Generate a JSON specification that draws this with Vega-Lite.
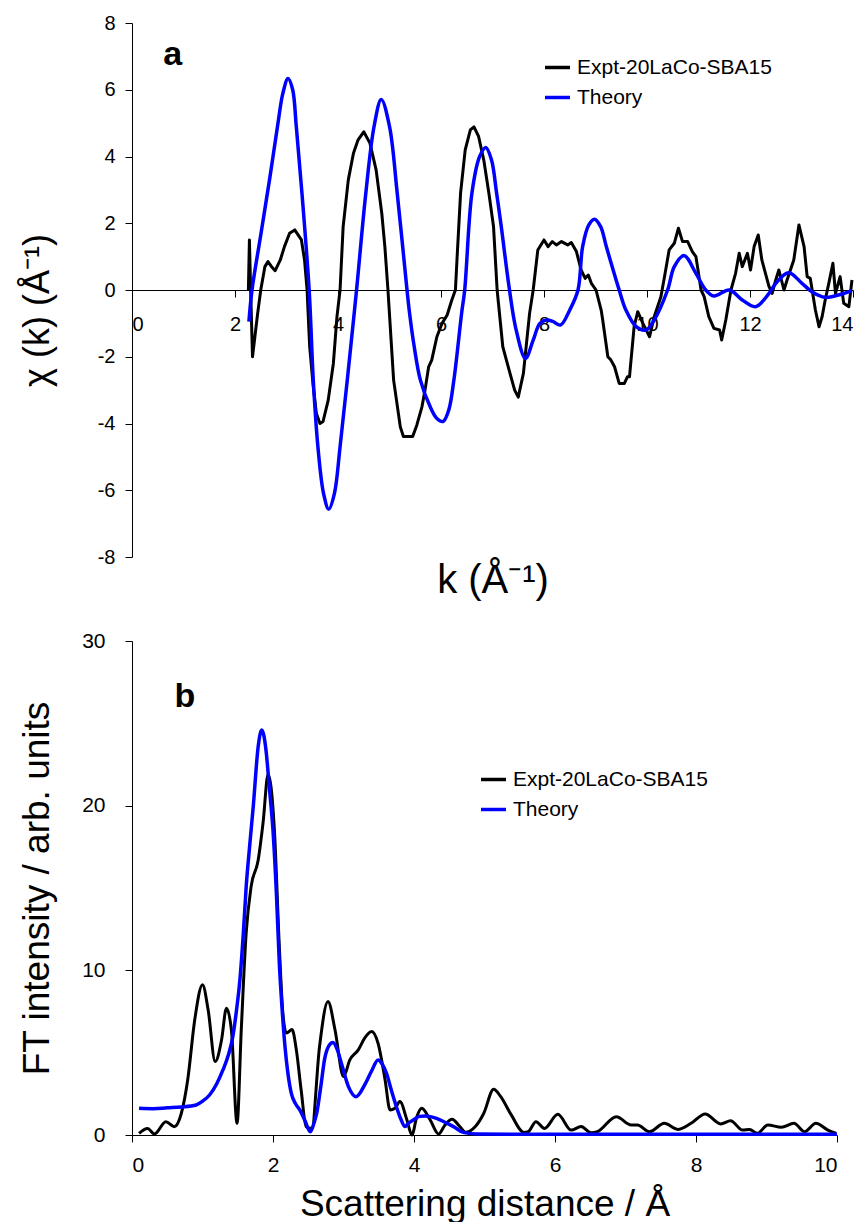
{
  "$schema": "https://vega.github.io/schema/vega-lite/v6.json",
  "padding": {"top": 13, "left": 17, "right": 0, "bottom": 0},
  "background": "white",
  "spacing": 30,
  "config": {
    "view": {"stroke": null},
    "font": "Liberation Sans",
    "axis": {"grid": false, "domainColor": "#000", "tickColor": "#000", "labelColor": "#000", "titleColor": "#000", "titleFontWeight": "normal", "labelFont": "Liberation Sans", "titleFont": "Liberation Sans", "tickSize": 7, "domainWidth": 1, "tickWidth": 1, "labelExpr": "'' + datum.value"},
    "legend": {"orient": "none", "symbolType": "stroke", "symbolStrokeWidth": 3.5, "symbolSize": 625, "labelFontSize": 21, "labelFont": "Liberation Sans", "labelColor": "#000", "labelLimit": 0, "title": null, "rowPadding": 5, "labelOffset": 5, "padding": 0}
  },
  "resolve": {"scale": {"color": "independent"}, "legend": {"color": "independent"}},
  "datasets": {
    "chi": [
      {"series": "Expt-20LaCo-SBA15", "k": 2.26, "chi": 0.0},
      {"series": "Expt-20LaCo-SBA15", "k": 2.28, "chi": 1.5},
      {"series": "Expt-20LaCo-SBA15", "k": 2.3, "chi": 0.2},
      {"series": "Expt-20LaCo-SBA15", "k": 2.34, "chi": -2.0},
      {"series": "Expt-20LaCo-SBA15", "k": 2.44, "chi": -0.7},
      {"series": "Expt-20LaCo-SBA15", "k": 2.5, "chi": 0.0},
      {"series": "Expt-20LaCo-SBA15", "k": 2.58, "chi": 0.7},
      {"series": "Expt-20LaCo-SBA15", "k": 2.64, "chi": 0.85},
      {"series": "Expt-20LaCo-SBA15", "k": 2.71, "chi": 0.7},
      {"series": "Expt-20LaCo-SBA15", "k": 2.78, "chi": 0.58},
      {"series": "Expt-20LaCo-SBA15", "k": 2.88, "chi": 0.9},
      {"series": "Expt-20LaCo-SBA15", "k": 2.96, "chi": 1.3},
      {"series": "Expt-20LaCo-SBA15", "k": 3.06, "chi": 1.7},
      {"series": "Expt-20LaCo-SBA15", "k": 3.16, "chi": 1.8},
      {"series": "Expt-20LaCo-SBA15", "k": 3.29, "chi": 1.5},
      {"series": "Expt-20LaCo-SBA15", "k": 3.35, "chi": 0.9},
      {"series": "Expt-20LaCo-SBA15", "k": 3.4, "chi": 0.0},
      {"series": "Expt-20LaCo-SBA15", "k": 3.42, "chi": -0.7},
      {"series": "Expt-20LaCo-SBA15", "k": 3.45, "chi": -1.7},
      {"series": "Expt-20LaCo-SBA15", "k": 3.52, "chi": -2.9},
      {"series": "Expt-20LaCo-SBA15", "k": 3.58, "chi": -3.7},
      {"series": "Expt-20LaCo-SBA15", "k": 3.65, "chi": -4.0},
      {"series": "Expt-20LaCo-SBA15", "k": 3.71, "chi": -3.94},
      {"series": "Expt-20LaCo-SBA15", "k": 3.81, "chi": -3.3},
      {"series": "Expt-20LaCo-SBA15", "k": 3.91, "chi": -2.2},
      {"series": "Expt-20LaCo-SBA15", "k": 3.98, "chi": -0.8},
      {"series": "Expt-20LaCo-SBA15", "k": 4.04, "chi": 0.0},
      {"series": "Expt-20LaCo-SBA15", "k": 4.1, "chi": 1.9},
      {"series": "Expt-20LaCo-SBA15", "k": 4.2, "chi": 3.3},
      {"series": "Expt-20LaCo-SBA15", "k": 4.3, "chi": 4.1},
      {"series": "Expt-20LaCo-SBA15", "k": 4.39, "chi": 4.5},
      {"series": "Expt-20LaCo-SBA15", "k": 4.5, "chi": 4.74},
      {"series": "Expt-20LaCo-SBA15", "k": 4.62, "chi": 4.4},
      {"series": "Expt-20LaCo-SBA15", "k": 4.74, "chi": 3.6},
      {"series": "Expt-20LaCo-SBA15", "k": 4.85, "chi": 2.3},
      {"series": "Expt-20LaCo-SBA15", "k": 4.91, "chi": 1.3},
      {"series": "Expt-20LaCo-SBA15", "k": 4.97, "chi": 0.0},
      {"series": "Expt-20LaCo-SBA15", "k": 5.08, "chi": -2.7},
      {"series": "Expt-20LaCo-SBA15", "k": 5.21, "chi": -4.1},
      {"series": "Expt-20LaCo-SBA15", "k": 5.27, "chi": -4.39},
      {"series": "Expt-20LaCo-SBA15", "k": 5.45, "chi": -4.39},
      {"series": "Expt-20LaCo-SBA15", "k": 5.53, "chi": -4.05},
      {"series": "Expt-20LaCo-SBA15", "k": 5.63, "chi": -3.5},
      {"series": "Expt-20LaCo-SBA15", "k": 5.69, "chi": -3.0},
      {"series": "Expt-20LaCo-SBA15", "k": 5.76, "chi": -2.3},
      {"series": "Expt-20LaCo-SBA15", "k": 5.82, "chi": -2.1},
      {"series": "Expt-20LaCo-SBA15", "k": 5.92, "chi": -1.4},
      {"series": "Expt-20LaCo-SBA15", "k": 6.02, "chi": -1.0},
      {"series": "Expt-20LaCo-SBA15", "k": 6.12, "chi": -0.75},
      {"series": "Expt-20LaCo-SBA15", "k": 6.21, "chi": -0.3},
      {"series": "Expt-20LaCo-SBA15", "k": 6.28, "chi": 0.0},
      {"series": "Expt-20LaCo-SBA15", "k": 6.31, "chi": 0.9},
      {"series": "Expt-20LaCo-SBA15", "k": 6.38, "chi": 2.9},
      {"series": "Expt-20LaCo-SBA15", "k": 6.47, "chi": 4.2},
      {"series": "Expt-20LaCo-SBA15", "k": 6.57, "chi": 4.8},
      {"series": "Expt-20LaCo-SBA15", "k": 6.64, "chi": 4.89},
      {"series": "Expt-20LaCo-SBA15", "k": 6.73, "chi": 4.6},
      {"series": "Expt-20LaCo-SBA15", "k": 6.83, "chi": 3.9},
      {"series": "Expt-20LaCo-SBA15", "k": 6.93, "chi": 2.9},
      {"series": "Expt-20LaCo-SBA15", "k": 7.02, "chi": 1.9},
      {"series": "Expt-20LaCo-SBA15", "k": 7.09, "chi": 0.0},
      {"series": "Expt-20LaCo-SBA15", "k": 7.2, "chi": -1.7},
      {"series": "Expt-20LaCo-SBA15", "k": 7.34, "chi": -2.5},
      {"series": "Expt-20LaCo-SBA15", "k": 7.43, "chi": -3.0},
      {"series": "Expt-20LaCo-SBA15", "k": 7.5, "chi": -3.21},
      {"series": "Expt-20LaCo-SBA15", "k": 7.6, "chi": -2.5},
      {"series": "Expt-20LaCo-SBA15", "k": 7.72, "chi": -0.7},
      {"series": "Expt-20LaCo-SBA15", "k": 7.79, "chi": 0.0},
      {"series": "Expt-20LaCo-SBA15", "k": 7.88, "chi": 1.2},
      {"series": "Expt-20LaCo-SBA15", "k": 8.0, "chi": 1.5},
      {"series": "Expt-20LaCo-SBA15", "k": 8.08, "chi": 1.3},
      {"series": "Expt-20LaCo-SBA15", "k": 8.16, "chi": 1.45},
      {"series": "Expt-20LaCo-SBA15", "k": 8.24, "chi": 1.35},
      {"series": "Expt-20LaCo-SBA15", "k": 8.34, "chi": 1.45},
      {"series": "Expt-20LaCo-SBA15", "k": 8.46, "chi": 1.35},
      {"series": "Expt-20LaCo-SBA15", "k": 8.53, "chi": 1.42},
      {"series": "Expt-20LaCo-SBA15", "k": 8.63, "chi": 1.15},
      {"series": "Expt-20LaCo-SBA15", "k": 8.72, "chi": 0.6},
      {"series": "Expt-20LaCo-SBA15", "k": 8.8, "chi": 0.35},
      {"series": "Expt-20LaCo-SBA15", "k": 8.86, "chi": 0.45},
      {"series": "Expt-20LaCo-SBA15", "k": 8.92, "chi": 0.2},
      {"series": "Expt-20LaCo-SBA15", "k": 9.01, "chi": 0.0},
      {"series": "Expt-20LaCo-SBA15", "k": 9.11, "chi": -0.6},
      {"series": "Expt-20LaCo-SBA15", "k": 9.14, "chi": -0.9},
      {"series": "Expt-20LaCo-SBA15", "k": 9.24, "chi": -2.0},
      {"series": "Expt-20LaCo-SBA15", "k": 9.3, "chi": -2.1},
      {"series": "Expt-20LaCo-SBA15", "k": 9.37, "chi": -2.3},
      {"series": "Expt-20LaCo-SBA15", "k": 9.46, "chi": -2.8},
      {"series": "Expt-20LaCo-SBA15", "k": 9.56, "chi": -2.8},
      {"series": "Expt-20LaCo-SBA15", "k": 9.62, "chi": -2.6},
      {"series": "Expt-20LaCo-SBA15", "k": 9.66, "chi": -2.6},
      {"series": "Expt-20LaCo-SBA15", "k": 9.75, "chi": -1.1},
      {"series": "Expt-20LaCo-SBA15", "k": 9.82, "chi": -0.65},
      {"series": "Expt-20LaCo-SBA15", "k": 9.92, "chi": -1.0},
      {"series": "Expt-20LaCo-SBA15", "k": 10.05, "chi": -1.4},
      {"series": "Expt-20LaCo-SBA15", "k": 10.14, "chi": -0.8},
      {"series": "Expt-20LaCo-SBA15", "k": 10.27, "chi": -0.2},
      {"series": "Expt-20LaCo-SBA15", "k": 10.34, "chi": 0.4},
      {"series": "Expt-20LaCo-SBA15", "k": 10.43, "chi": 1.2},
      {"series": "Expt-20LaCo-SBA15", "k": 10.53, "chi": 1.4},
      {"series": "Expt-20LaCo-SBA15", "k": 10.61, "chi": 1.85},
      {"series": "Expt-20LaCo-SBA15", "k": 10.69, "chi": 1.45},
      {"series": "Expt-20LaCo-SBA15", "k": 10.79, "chi": 1.45},
      {"series": "Expt-20LaCo-SBA15", "k": 10.88, "chi": 1.15},
      {"series": "Expt-20LaCo-SBA15", "k": 10.95, "chi": 1.0},
      {"series": "Expt-20LaCo-SBA15", "k": 11.05, "chi": 0.0},
      {"series": "Expt-20LaCo-SBA15", "k": 11.11, "chi": -0.2},
      {"series": "Expt-20LaCo-SBA15", "k": 11.2, "chi": -0.8},
      {"series": "Expt-20LaCo-SBA15", "k": 11.3, "chi": -1.15},
      {"series": "Expt-20LaCo-SBA15", "k": 11.41, "chi": -1.2},
      {"series": "Expt-20LaCo-SBA15", "k": 11.45, "chi": -1.5},
      {"series": "Expt-20LaCo-SBA15", "k": 11.53, "chi": -0.9},
      {"series": "Expt-20LaCo-SBA15", "k": 11.63, "chi": 0.0},
      {"series": "Expt-20LaCo-SBA15", "k": 11.72, "chi": 0.5},
      {"series": "Expt-20LaCo-SBA15", "k": 11.79, "chi": 1.1},
      {"series": "Expt-20LaCo-SBA15", "k": 11.85, "chi": 0.7},
      {"series": "Expt-20LaCo-SBA15", "k": 11.95, "chi": 1.1},
      {"series": "Expt-20LaCo-SBA15", "k": 12.01, "chi": 0.6},
      {"series": "Expt-20LaCo-SBA15", "k": 12.08, "chi": 1.3},
      {"series": "Expt-20LaCo-SBA15", "k": 12.16, "chi": 1.65},
      {"series": "Expt-20LaCo-SBA15", "k": 12.23, "chi": 0.9},
      {"series": "Expt-20LaCo-SBA15", "k": 12.3, "chi": 0.5},
      {"series": "Expt-20LaCo-SBA15", "k": 12.37, "chi": 0.1},
      {"series": "Expt-20LaCo-SBA15", "k": 12.43, "chi": -0.1},
      {"series": "Expt-20LaCo-SBA15", "k": 12.5, "chi": 0.3},
      {"series": "Expt-20LaCo-SBA15", "k": 12.56, "chi": 0.6},
      {"series": "Expt-20LaCo-SBA15", "k": 12.66, "chi": 0.0},
      {"series": "Expt-20LaCo-SBA15", "k": 12.72, "chi": 0.3},
      {"series": "Expt-20LaCo-SBA15", "k": 12.85, "chi": 0.9},
      {"series": "Expt-20LaCo-SBA15", "k": 12.95, "chi": 1.95},
      {"series": "Expt-20LaCo-SBA15", "k": 13.05, "chi": 1.3},
      {"series": "Expt-20LaCo-SBA15", "k": 13.11, "chi": 0.4},
      {"series": "Expt-20LaCo-SBA15", "k": 13.17, "chi": 0.35},
      {"series": "Expt-20LaCo-SBA15", "k": 13.27, "chi": -0.6},
      {"series": "Expt-20LaCo-SBA15", "k": 13.34, "chi": -1.1},
      {"series": "Expt-20LaCo-SBA15", "k": 13.4, "chi": -0.8},
      {"series": "Expt-20LaCo-SBA15", "k": 13.46, "chi": -0.3},
      {"series": "Expt-20LaCo-SBA15", "k": 13.53, "chi": 0.2},
      {"series": "Expt-20LaCo-SBA15", "k": 13.61, "chi": 0.8},
      {"series": "Expt-20LaCo-SBA15", "k": 13.66, "chi": -0.1},
      {"series": "Expt-20LaCo-SBA15", "k": 13.75, "chi": 0.4},
      {"series": "Expt-20LaCo-SBA15", "k": 13.82, "chi": -0.4},
      {"series": "Expt-20LaCo-SBA15", "k": 13.92, "chi": -0.5},
      {"series": "Expt-20LaCo-SBA15", "k": 13.98, "chi": 0.3},
      {"series": "Theory", "k": 2.27, "chi": -0.95},
      {"series": "Theory", "k": 2.33, "chi": 0.0},
      {"series": "Theory", "k": 2.5, "chi": 1.65},
      {"series": "Theory", "k": 2.67, "chi": 3.3},
      {"series": "Theory", "k": 2.83, "chi": 4.95},
      {"series": "Theory", "k": 2.93, "chi": 5.9},
      {"series": "Theory", "k": 3.03, "chi": 6.34},
      {"series": "Theory", "k": 3.12, "chi": 6.0},
      {"series": "Theory", "k": 3.19, "chi": 4.9},
      {"series": "Theory", "k": 3.3, "chi": 2.9},
      {"series": "Theory", "k": 3.44, "chi": 0.0},
      {"series": "Theory", "k": 3.52, "chi": -2.7},
      {"series": "Theory", "k": 3.61, "chi": -4.7},
      {"series": "Theory", "k": 3.72, "chi": -6.1},
      {"series": "Theory", "k": 3.82, "chi": -6.57},
      {"series": "Theory", "k": 3.93, "chi": -6.1},
      {"series": "Theory", "k": 4.04, "chi": -4.7},
      {"series": "Theory", "k": 4.18, "chi": -2.7},
      {"series": "Theory", "k": 4.36, "chi": 0.0},
      {"series": "Theory", "k": 4.54, "chi": 2.9},
      {"series": "Theory", "k": 4.7, "chi": 4.9},
      {"series": "Theory", "k": 4.84, "chi": 5.71},
      {"series": "Theory", "k": 5.0, "chi": 4.9},
      {"series": "Theory", "k": 5.15, "chi": 2.9},
      {"series": "Theory", "k": 5.34, "chi": 0.0},
      {"series": "Theory", "k": 5.39, "chi": -0.7},
      {"series": "Theory", "k": 5.48, "chi": -1.7},
      {"series": "Theory", "k": 5.6, "chi": -2.7},
      {"series": "Theory", "k": 5.79, "chi": -3.5},
      {"series": "Theory", "k": 5.92, "chi": -3.85},
      {"series": "Theory", "k": 6.04, "chi": -3.94},
      {"series": "Theory", "k": 6.15, "chi": -3.6},
      {"series": "Theory", "k": 6.25, "chi": -2.7},
      {"series": "Theory", "k": 6.4, "chi": -0.7},
      {"series": "Theory", "k": 6.46, "chi": 0.0},
      {"series": "Theory", "k": 6.6, "chi": 2.9},
      {"series": "Theory", "k": 6.75, "chi": 4.0},
      {"series": "Theory", "k": 6.87, "chi": 4.27},
      {"series": "Theory", "k": 6.98, "chi": 3.9},
      {"series": "Theory", "k": 7.08, "chi": 2.9},
      {"series": "Theory", "k": 7.17, "chi": 1.9},
      {"series": "Theory", "k": 7.33, "chi": 0.0},
      {"series": "Theory", "k": 7.46, "chi": -1.2},
      {"series": "Theory", "k": 7.64, "chi": -2.05},
      {"series": "Theory", "k": 7.79, "chi": -1.5},
      {"series": "Theory", "k": 7.92, "chi": -1.0},
      {"series": "Theory", "k": 8.05, "chi": -0.9},
      {"series": "Theory", "k": 8.18, "chi": -0.95},
      {"series": "Theory", "k": 8.32, "chi": -1.05},
      {"series": "Theory", "k": 8.5, "chi": -0.6},
      {"series": "Theory", "k": 8.66, "chi": 0.0},
      {"series": "Theory", "k": 8.75, "chi": 1.3},
      {"series": "Theory", "k": 8.87, "chi": 1.95},
      {"series": "Theory", "k": 8.98, "chi": 2.12},
      {"series": "Theory", "k": 9.1, "chi": 1.9},
      {"series": "Theory", "k": 9.21, "chi": 1.3},
      {"series": "Theory", "k": 9.46, "chi": 0.0},
      {"series": "Theory", "k": 9.59, "chi": -0.6},
      {"series": "Theory", "k": 9.79, "chi": -1.1},
      {"series": "Theory", "k": 9.98, "chi": -1.2},
      {"series": "Theory", "k": 10.14, "chi": -0.9},
      {"series": "Theory", "k": 10.4, "chi": 0.0},
      {"series": "Theory", "k": 10.53, "chi": 0.7},
      {"series": "Theory", "k": 10.72, "chi": 1.03},
      {"series": "Theory", "k": 10.95, "chi": 0.5},
      {"series": "Theory", "k": 11.14, "chi": 0.0},
      {"series": "Theory", "k": 11.3, "chi": -0.18},
      {"series": "Theory", "k": 11.6, "chi": 0.0},
      {"series": "Theory", "k": 11.85, "chi": -0.3},
      {"series": "Theory", "k": 12.11, "chi": -0.5},
      {"series": "Theory", "k": 12.37, "chi": -0.1},
      {"series": "Theory", "k": 12.5, "chi": 0.2},
      {"series": "Theory", "k": 12.75, "chi": 0.52},
      {"series": "Theory", "k": 13.01, "chi": 0.2},
      {"series": "Theory", "k": 13.2, "chi": -0.05},
      {"series": "Theory", "k": 13.46, "chi": -0.22},
      {"series": "Theory", "k": 13.72, "chi": -0.15},
      {"series": "Theory", "k": 13.98, "chi": -0.02}
    ],
    "ft": [
      {"series": "Expt-20LaCo-SBA15", "r": 0.1, "ft": 0.1},
      {"series": "Expt-20LaCo-SBA15", "r": 0.22, "ft": 0.4},
      {"series": "Expt-20LaCo-SBA15", "r": 0.32, "ft": 0.06},
      {"series": "Expt-20LaCo-SBA15", "r": 0.48, "ft": 0.81},
      {"series": "Expt-20LaCo-SBA15", "r": 0.6, "ft": 0.5},
      {"series": "Expt-20LaCo-SBA15", "r": 0.7, "ft": 1.32},
      {"series": "Expt-20LaCo-SBA15", "r": 0.79, "ft": 3.34},
      {"series": "Expt-20LaCo-SBA15", "r": 0.89, "ft": 7.0},
      {"series": "Expt-20LaCo-SBA15", "r": 1.0, "ft": 9.12},
      {"series": "Expt-20LaCo-SBA15", "r": 1.08, "ft": 7.6},
      {"series": "Expt-20LaCo-SBA15", "r": 1.18, "ft": 4.46},
      {"series": "Expt-20LaCo-SBA15", "r": 1.27, "ft": 5.77},
      {"series": "Expt-20LaCo-SBA15", "r": 1.34, "ft": 7.7},
      {"series": "Expt-20LaCo-SBA15", "r": 1.41, "ft": 6.38},
      {"series": "Expt-20LaCo-SBA15", "r": 1.49, "ft": 0.71},
      {"series": "Expt-20LaCo-SBA15", "r": 1.55, "ft": 6.4},
      {"series": "Expt-20LaCo-SBA15", "r": 1.62, "ft": 12.3},
      {"series": "Expt-20LaCo-SBA15", "r": 1.69, "ft": 15.1},
      {"series": "Expt-20LaCo-SBA15", "r": 1.79, "ft": 16.7},
      {"series": "Expt-20LaCo-SBA15", "r": 1.86, "ft": 19.0},
      {"series": "Expt-20LaCo-SBA15", "r": 1.93, "ft": 21.9},
      {"series": "Expt-20LaCo-SBA15", "r": 2.02, "ft": 18.5},
      {"series": "Expt-20LaCo-SBA15", "r": 2.09, "ft": 11.4},
      {"series": "Expt-20LaCo-SBA15", "r": 2.14, "ft": 7.4},
      {"series": "Expt-20LaCo-SBA15", "r": 2.19, "ft": 6.2},
      {"series": "Expt-20LaCo-SBA15", "r": 2.27, "ft": 6.4},
      {"series": "Expt-20LaCo-SBA15", "r": 2.33, "ft": 5.2},
      {"series": "Expt-20LaCo-SBA15", "r": 2.4, "ft": 2.7},
      {"series": "Expt-20LaCo-SBA15", "r": 2.47, "ft": 0.5},
      {"series": "Expt-20LaCo-SBA15", "r": 2.55, "ft": 0.4},
      {"series": "Expt-20LaCo-SBA15", "r": 2.66, "ft": 5.37},
      {"series": "Expt-20LaCo-SBA15", "r": 2.78, "ft": 8.1},
      {"series": "Expt-20LaCo-SBA15", "r": 2.88, "ft": 6.38},
      {"series": "Expt-20LaCo-SBA15", "r": 3.0, "ft": 3.55},
      {"series": "Expt-20LaCo-SBA15", "r": 3.09, "ft": 4.56},
      {"series": "Expt-20LaCo-SBA15", "r": 3.21, "ft": 5.17},
      {"series": "Expt-20LaCo-SBA15", "r": 3.3, "ft": 5.88},
      {"series": "Expt-20LaCo-SBA15", "r": 3.4, "ft": 6.28},
      {"series": "Expt-20LaCo-SBA15", "r": 3.49, "ft": 5.57},
      {"series": "Expt-20LaCo-SBA15", "r": 3.59, "ft": 3.34},
      {"series": "Expt-20LaCo-SBA15", "r": 3.66, "ft": 1.52},
      {"series": "Expt-20LaCo-SBA15", "r": 3.73, "ft": 1.62},
      {"series": "Expt-20LaCo-SBA15", "r": 3.8, "ft": 2.03},
      {"series": "Expt-20LaCo-SBA15", "r": 3.9, "ft": 0.91},
      {"series": "Expt-20LaCo-SBA15", "r": 3.97, "ft": 0.0},
      {"series": "Expt-20LaCo-SBA15", "r": 4.04, "ft": 1.11},
      {"series": "Expt-20LaCo-SBA15", "r": 4.11, "ft": 1.62},
      {"series": "Expt-20LaCo-SBA15", "r": 4.23, "ft": 0.91},
      {"series": "Expt-20LaCo-SBA15", "r": 4.35, "ft": 0.06},
      {"series": "Expt-20LaCo-SBA15", "r": 4.44, "ft": 0.61},
      {"series": "Expt-20LaCo-SBA15", "r": 4.54, "ft": 0.95},
      {"series": "Expt-20LaCo-SBA15", "r": 4.65, "ft": 0.51},
      {"series": "Expt-20LaCo-SBA15", "r": 4.73, "ft": 0.16},
      {"series": "Expt-20LaCo-SBA15", "r": 4.87, "ft": 0.51},
      {"series": "Expt-20LaCo-SBA15", "r": 4.99, "ft": 1.32},
      {"series": "Expt-20LaCo-SBA15", "r": 5.13, "ft": 2.78},
      {"series": "Expt-20LaCo-SBA15", "r": 5.23, "ft": 2.33},
      {"series": "Expt-20LaCo-SBA15", "r": 5.38, "ft": 1.22},
      {"series": "Expt-20LaCo-SBA15", "r": 5.56, "ft": 0.15},
      {"series": "Expt-20LaCo-SBA15", "r": 5.62, "ft": 0.2},
      {"series": "Expt-20LaCo-SBA15", "r": 5.73, "ft": 0.81},
      {"series": "Expt-20LaCo-SBA15", "r": 5.85, "ft": 0.4},
      {"series": "Expt-20LaCo-SBA15", "r": 6.04, "ft": 1.26},
      {"series": "Expt-20LaCo-SBA15", "r": 6.23, "ft": 0.3},
      {"series": "Expt-20LaCo-SBA15", "r": 6.37, "ft": 0.51},
      {"series": "Expt-20LaCo-SBA15", "r": 6.51, "ft": 0.14},
      {"series": "Expt-20LaCo-SBA15", "r": 6.6, "ft": 0.2},
      {"series": "Expt-20LaCo-SBA15", "r": 6.87, "ft": 1.11},
      {"series": "Expt-20LaCo-SBA15", "r": 7.08, "ft": 0.61},
      {"series": "Expt-20LaCo-SBA15", "r": 7.17, "ft": 0.61},
      {"series": "Expt-20LaCo-SBA15", "r": 7.34, "ft": 0.2},
      {"series": "Expt-20LaCo-SBA15", "r": 7.55, "ft": 0.71},
      {"series": "Expt-20LaCo-SBA15", "r": 7.74, "ft": 0.34},
      {"series": "Expt-20LaCo-SBA15", "r": 7.93, "ft": 0.71},
      {"series": "Expt-20LaCo-SBA15", "r": 8.13, "ft": 1.28},
      {"series": "Expt-20LaCo-SBA15", "r": 8.35, "ft": 0.67},
      {"series": "Expt-20LaCo-SBA15", "r": 8.49, "ft": 0.87},
      {"series": "Expt-20LaCo-SBA15", "r": 8.66, "ft": 0.3},
      {"series": "Expt-20LaCo-SBA15", "r": 8.76, "ft": 0.34},
      {"series": "Expt-20LaCo-SBA15", "r": 8.87, "ft": 0.1},
      {"series": "Expt-20LaCo-SBA15", "r": 9.02, "ft": 0.61},
      {"series": "Expt-20LaCo-SBA15", "r": 9.21, "ft": 0.47},
      {"series": "Expt-20LaCo-SBA15", "r": 9.39, "ft": 0.71},
      {"series": "Expt-20LaCo-SBA15", "r": 9.54, "ft": 0.2},
      {"series": "Expt-20LaCo-SBA15", "r": 9.7, "ft": 0.71},
      {"series": "Expt-20LaCo-SBA15", "r": 9.87, "ft": 0.3},
      {"series": "Expt-20LaCo-SBA15", "r": 9.99, "ft": 0.1},
      {"series": "Theory", "r": 0.1, "ft": 1.62},
      {"series": "Theory", "r": 0.3, "ft": 1.6},
      {"series": "Theory", "r": 0.5, "ft": 1.65},
      {"series": "Theory", "r": 0.7, "ft": 1.7},
      {"series": "Theory", "r": 0.91, "ft": 1.82},
      {"series": "Theory", "r": 1.0, "ft": 2.05},
      {"series": "Theory", "r": 1.1, "ft": 2.43},
      {"series": "Theory", "r": 1.2, "ft": 3.1},
      {"series": "Theory", "r": 1.29, "ft": 3.95},
      {"series": "Theory", "r": 1.37, "ft": 4.9},
      {"series": "Theory", "r": 1.43, "ft": 5.98},
      {"series": "Theory", "r": 1.48, "ft": 7.5},
      {"series": "Theory", "r": 1.53, "ft": 9.4},
      {"series": "Theory", "r": 1.58, "ft": 12.3},
      {"series": "Theory", "r": 1.62, "ft": 15.1},
      {"series": "Theory", "r": 1.67, "ft": 17.6},
      {"series": "Theory", "r": 1.72, "ft": 19.96},
      {"series": "Theory", "r": 1.79, "ft": 23.6},
      {"series": "Theory", "r": 1.84, "ft": 24.6},
      {"series": "Theory", "r": 1.9, "ft": 23.4},
      {"series": "Theory", "r": 1.95, "ft": 21.0},
      {"series": "Theory", "r": 2.0, "ft": 18.5},
      {"series": "Theory", "r": 2.05, "ft": 14.5},
      {"series": "Theory", "r": 2.09, "ft": 10.4},
      {"series": "Theory", "r": 2.13, "ft": 7.6},
      {"series": "Theory", "r": 2.17, "ft": 5.37},
      {"series": "Theory", "r": 2.21, "ft": 3.8},
      {"series": "Theory", "r": 2.26, "ft": 2.53},
      {"series": "Theory", "r": 2.32, "ft": 1.9},
      {"series": "Theory", "r": 2.38, "ft": 1.52},
      {"series": "Theory", "r": 2.45, "ft": 0.91},
      {"series": "Theory", "r": 2.53, "ft": 0.2},
      {"series": "Theory", "r": 2.58, "ft": 0.7},
      {"series": "Theory", "r": 2.62, "ft": 1.32},
      {"series": "Theory", "r": 2.68, "ft": 3.0},
      {"series": "Theory", "r": 2.73, "ft": 4.56},
      {"series": "Theory", "r": 2.79, "ft": 5.4},
      {"series": "Theory", "r": 2.85, "ft": 5.61},
      {"series": "Theory", "r": 2.91, "ft": 5.2},
      {"series": "Theory", "r": 2.97, "ft": 4.36},
      {"series": "Theory", "r": 3.07, "ft": 2.94},
      {"series": "Theory", "r": 3.18, "ft": 2.33},
      {"series": "Theory", "r": 3.3, "ft": 3.04},
      {"series": "Theory", "r": 3.4, "ft": 3.9},
      {"series": "Theory", "r": 3.49, "ft": 4.56},
      {"series": "Theory", "r": 3.55, "ft": 4.3},
      {"series": "Theory", "r": 3.61, "ft": 3.75},
      {"series": "Theory", "r": 3.68, "ft": 2.7},
      {"series": "Theory", "r": 3.75, "ft": 1.72},
      {"series": "Theory", "r": 3.81, "ft": 1.0},
      {"series": "Theory", "r": 3.87, "ft": 0.51},
      {"series": "Theory", "r": 3.93, "ft": 0.75},
      {"series": "Theory", "r": 3.99, "ft": 0.91},
      {"series": "Theory", "r": 4.08, "ft": 1.13},
      {"series": "Theory", "r": 4.16, "ft": 1.16},
      {"series": "Theory", "r": 4.32, "ft": 1.01},
      {"series": "Theory", "r": 4.45, "ft": 0.75},
      {"series": "Theory", "r": 4.56, "ft": 0.51},
      {"series": "Theory", "r": 4.7, "ft": 0.16},
      {"series": "Theory", "r": 4.89, "ft": 0.06},
      {"series": "Theory", "r": 5.5, "ft": 0.05},
      {"series": "Theory", "r": 6.5, "ft": 0.05},
      {"series": "Theory", "r": 7.5, "ft": 0.05},
      {"series": "Theory", "r": 8.5, "ft": 0.05},
      {"series": "Theory", "r": 10.0, "ft": 0.05}
    ]
  },
  "vconcat": [
    {
      "width": 721,
      "height": 534,
      "layer": [
        {
          "data": {"name": "chi"},
          "transform": [{"filter": "datum.series === 'Expt-20LaCo-SBA15'"}],
          "mark": {"type": "line", "strokeWidth": 3, "strokeJoin": "round"},
          "encoding": {
            "x": {"field": "k", "type": "quantitative", "scale": {"domain": [0, 14], "nice": false, "zero": false},
              "axis": {"values": [0, 2, 4, 6, 8, 10, 12, 14], "offset": -267, "labelFontSize": 20, "labelPadding": 17, "title": "k (Å⁻¹)", "titleFontSize": 40, "titleBaseline": "alphabetic", "titleY": 302}},
            "y": {"field": "chi", "type": "quantitative", "scale": {"domain": [-8, 8], "nice": false},
              "axis": {"values": [-8, -6, -4, -2, 0, 2, 4, 6, 8], "labelFontSize": 20, "labelPadding": 10, "title": "χ (k) (Å⁻¹)", "titleFontSize": 36, "titleBaseline": "middle", "titleX": -95, "titleY": 287}},
            "color": {"field": "series", "type": "nominal", "scale": {"domain": ["Expt-20LaCo-SBA15", "Theory"], "range": ["#000000", "#0000ff"]},
              "legend": {"legendX": 411, "legendY": 30}}
          }
        },
        {
          "data": {"name": "chi"},
          "transform": [{"filter": "datum.series === 'Theory'"}],
          "mark": {"type": "line", "strokeWidth": 3.5, "interpolate": "catmull-rom"},
          "encoding": {
            "x": {"field": "k", "type": "quantitative"},
            "y": {"field": "chi", "type": "quantitative"},
            "color": {"field": "series", "type": "nominal"}
          }
        },
        {
          "data": {"values": [{}]},
          "mark": {"type": "text", "text": "a", "fontSize": 34, "fontWeight": "bold", "font": "Liberation Sans", "align": "center", "baseline": "alphabetic", "color": "#000"},
          "encoding": {"x": {"datum": 0.79}, "y": {"datum": 6.74}}
        }
      ]
    },
    {
      "width": 705,
      "height": 494,
      "layer": [
        {
          "data": {"name": "ft"},
          "transform": [{"filter": "datum.series === 'Expt-20LaCo-SBA15'"}],
          "mark": {"type": "line", "strokeWidth": 3, "interpolate": "monotone"},
          "encoding": {
            "x": {"field": "r", "type": "quantitative", "scale": {"domain": [0, 10], "nice": false},
              "axis": {"values": [0, 2, 4, 6, 8, 10], "labelFontSize": 21, "labelPadding": 12, "title": "Scattering distance / Å", "titleFontSize": 37, "titleBaseline": "alphabetic", "titleY": 80}},
            "y": {"field": "ft", "type": "quantitative", "scale": {"domain": [0, 30], "nice": false},
              "axis": {"values": [0, 10, 20, 30], "labelFontSize": 21, "labelPadding": 20, "title": "FT intensity / arb. units", "titleFontSize": 37, "titleBaseline": "middle", "titleX": -95}},
            "color": {"field": "series", "type": "nominal", "scale": {"domain": ["Expt-20LaCo-SBA15", "Theory"], "range": ["#000000", "#0000ff"]},
              "legend": {"legendX": 347, "legendY": 124}}
          }
        },
        {
          "data": {"name": "ft"},
          "transform": [{"filter": "datum.series === 'Theory'"}],
          "mark": {"type": "line", "strokeWidth": 3.5, "interpolate": "monotone"},
          "encoding": {
            "x": {"field": "r", "type": "quantitative"},
            "y": {"field": "ft", "type": "quantitative"},
            "color": {"field": "series", "type": "nominal"}
          }
        },
        {
          "data": {"values": [{}]},
          "mark": {"type": "text", "text": "b", "fontSize": 34, "fontWeight": "bold", "font": "Liberation Sans", "align": "center", "baseline": "alphabetic", "color": "#000"},
          "encoding": {"x": {"datum": 0.75}, "y": {"datum": 26.0}}
        }
      ]
    }
  ]
}
